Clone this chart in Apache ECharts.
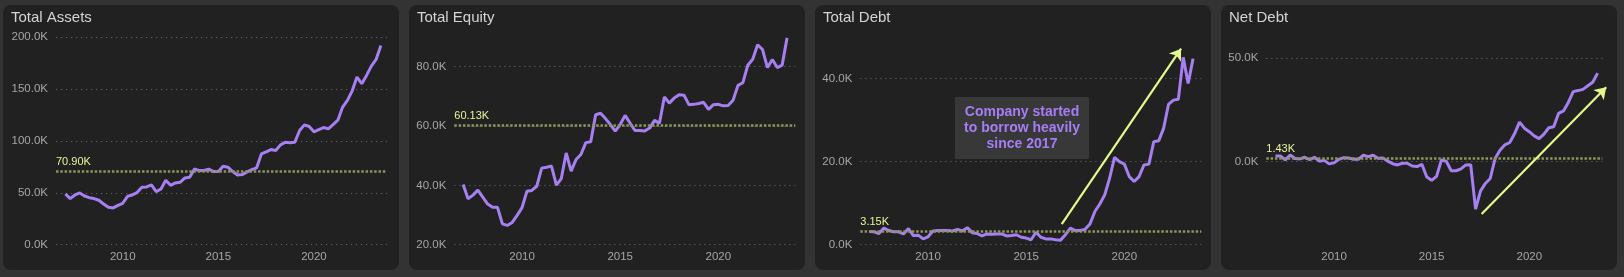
<!DOCTYPE html>
<html><head><meta charset="utf-8">
<script src="https://cdn.jsdelivr.net/npm/echarts@6/dist/echarts.min.js"></script>
<style>html,body{margin:0;padding:0;background:#333333;overflow:hidden}#c{width:1624px;height:277px}</style>
</head><body><div id="c"></div>
<script>
// ---- data (values in thousands) ----
const titles = ['Total Assets', 'Total Equity', 'Total Debt', 'Net Debt'];
const firstQuarterYear = 2007;      // first quarterly observation (year-end 2006)
const quarterStep = 0.25;
const totalAssets = [48.9,44.4,47.9,49.8,46.9,45.3,44.4,42.8,39.2,36.0,35.4,37.9,39.9,46.6,47.9,50.2,55.3,55.6,57.5,51.1,53.7,62.0,57.2,59.5,60.1,64.3,64.9,73.0,71.4,71.4,72.7,70.4,70.4,75.6,74.6,70.4,67.2,67.5,70.1,72.3,73.9,87.4,89.4,91.6,90.7,96.1,98.7,98.1,98.7,110.0,115.4,113.8,108.7,110.9,112.8,111.6,115.7,119.9,132.5,138.9,148.2,161.4,155.0,163.0,172.0,178.4,191.9];
const totalEquity = [40.3,35.5,36.7,38.4,36.0,33.7,32.6,32.6,27.0,26.5,27.5,29.9,32.5,38.0,38.3,39.7,45.8,46.1,46.5,40.1,42.3,50.9,44.8,48.7,50.4,54.4,54.7,63.8,64.3,62.5,60.5,58.3,60.5,63.6,61.0,58.5,58.5,58.3,59.3,61.9,60.9,69.8,67.7,69.4,70.5,70.4,67.2,67.3,67.6,68.0,65.6,67.2,67.3,66.8,66.9,68.7,73.7,74.6,80.5,82.5,87.4,85.8,79.7,82.4,79.7,80.5,89.7];
const totalDebt = [3.2,3.1,2.7,4.0,3.4,3.1,3.1,2.6,3.9,2.2,2.3,1.4,1.9,3.3,3.4,3.4,3.4,3.3,3.7,3.3,4.1,2.9,2.7,2.1,2.6,2.5,2.6,2.6,2.1,2.2,2.4,1.8,1.6,1.2,3.0,1.8,1.4,1.4,1.2,1.1,2.4,4.0,3.4,3.4,3.7,5.0,8.0,9.8,12.0,16.0,21.0,20.0,19.4,16.4,15.2,16.4,19.2,19.4,24.8,25.0,28.0,33.8,34.8,35.0,45.1,38.8,44.8];
const netDebt = [2.7,2.7,0.8,3.2,1.5,1.3,2.1,1.0,2.1,0.2,0.6,-1.1,-0.6,1.1,1.9,1.8,1.1,1.1,3.1,2.4,3.1,1.6,1.8,0.2,-1.0,-1.6,-0.8,-0.8,-2.1,-2.4,-1.3,-7.4,-9.0,-7.1,0.8,0.2,-4.4,-4.4,-3.5,-1.6,-1.5,-22.9,-14.2,-10.5,-8.1,1.5,5.5,8.1,9.2,13.5,19.0,16.1,14.4,12.4,11.1,13.2,16.3,16.8,23.2,24.4,28.5,33.7,34.2,34.8,36.5,38.2,42.6];
const refValues = [70.90, 60.13, 3.15, 1.43];
const yTicks = [[0, 50, 100, 150, 200], [20, 40, 60, 80], [0, 20, 40], [0, 50]];
const yRanges = [[0, 200], [20, 90], [0, 50], [-40, 60]];
const xTicks = [2010, 2015, 2020];
const xRanges = [[2006.51, 2023.82], [2006.55, 2023.92], [2006.55, 2023.92], [2006.53, 2023.74]];
const debtArrow = [[2016.81, 4.97], [2022.89, 47.2]];
const netDebtArrow = [[2017.56, -25.2], [2023.94, 35.8]];
const annotation = ['Company started', 'to borrow heavily', 'since 2017'];

// ---- layout / style ----
const FONT = '"Liberation Sans", Arial, sans-serif';
const panelX = [3, 409, 815, 1221];
const gridBox = [{left: 56, width: 331}, {left: 454.3, width: 341}, {left: 860.3, width: 341}, {left: 1266.3, width: 336}];
const seriesData = [totalAssets, totalEquity, totalDebt, netDebt];
const lineColor = '#a67ff1';
const arrowColor = '#e3f98c';

const chart = echarts.init(document.getElementById('c'), null, {renderer: 'canvas'});

const grids = [], xAxes = [], yAxes = [], series = [], titleArr = [], graphics = [];
for (let k = 0; k < 4; k++) {
  graphics.push({type: 'rect', z: -10, shape: {x: panelX[k], y: 5, width: 396, height: 265, r: 8}, style: {fill: '#212121'}});
  titleArr.push({text: titles[k], left: panelX[k] + 8, top: 10, padding: 0,
    textStyle: {color: '#d4d4d4', fontSize: 15, fontWeight: 'normal', fontFamily: FONT}});
  grids.push({left: gridBox[k].left, width: gridBox[k].width, top: 37, height: 207.7, containLabel: false});
  xAxes.push({type: 'value', gridIndex: k, min: xRanges[k][0], max: xRanges[k][1],
    axisLine: {show: false}, axisTick: {show: false, customValues: xTicks}, splitLine: {show: false},
    axisLabel: {customValues: xTicks, color: '#a6a6a6', fontSize: 11.5, fontFamily: FONT, margin: 6,
      formatter: v => String(Math.round(v))}});
  yAxes.push({type: 'value', gridIndex: k, min: yRanges[k][0], max: yRanges[k][1],
    axisLine: {show: false}, axisTick: {show: false, customValues: yTicks[k]},
    axisLabel: {customValues: yTicks[k], color: '#a6a6a6', fontSize: 11.5, fontFamily: FONT, margin: 8,
      formatter: v => v.toFixed(1) + 'K'},
    splitLine: {show: true, lineStyle: {color: '#626262', type: [1.2, 3.8], width: 1.2}}});
  const data = seriesData[k].map((v, i) => [firstQuarterYear + i * quarterStep, v]);
  series.push({type: 'line', xAxisIndex: k, yAxisIndex: k, data, showSymbol: false, symbol: 'none',
    lineStyle: {color: lineColor, width: 3}, z: 3,
    markLine: {silent: true, symbol: 'none', animation: false,
      lineStyle: {color: '#8b9659', type: [2.5, 1.8], width: 2.6, cap: 'butt'},
      label: {show: true, position: 'insideStartTop', formatter: refValues[k].toFixed(2) + 'K',
        color: '#e8f59a', fontSize: 11, fontFamily: FONT, distance: [0, 4]},
      data: [{yAxis: refValues[k]}]}});
}
const arrows = [[2, debtArrow], [3, netDebtArrow]];
arrows.forEach(([k, a]) => {
  series.push({type: 'lines', coordinateSystem: 'cartesian2d', xAxisIndex: k, yAxisIndex: k, clip: false, z: 5,
    symbol: ['none', 'arrow'], symbolSize: 11,
    lineStyle: {color: arrowColor, width: 2.2, opacity: 1, curveness: 0},
    data: [{coords: a}]});
});
graphics.push({type: 'group', left: 955, top: 97, z: 20, children: [
  {type: 'rect', shape: {x: 0, y: 0, width: 134, height: 62}, style: {fill: '#383838'}},
  {type: 'text', x: 67, y: 31, style: {text: annotation.join('\n'), fill: '#a57ef5',
    font: 'bold 14px ' + FONT, lineHeight: 16, align: 'center', verticalAlign: 'middle'}}
]});

chart.setOption({
  animation: false,
  backgroundColor: '#333333',
  title: titleArr,
  grid: grids, xAxis: xAxes, yAxis: yAxes, series,
  graphic: graphics
});
</script></body></html>
